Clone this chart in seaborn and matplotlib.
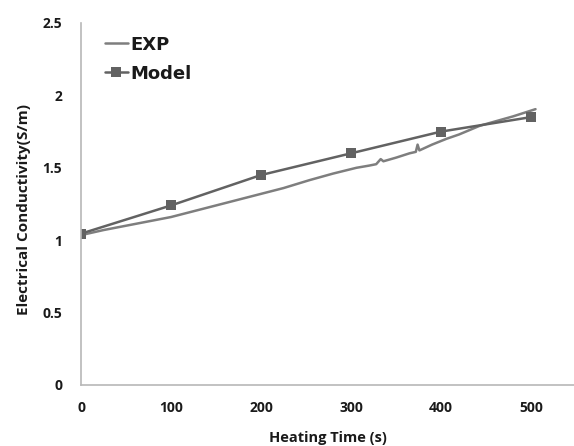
import matplotlib
matplotlib.use("Agg")
import matplotlib.pyplot as plt
import seaborn as sns
import pandas as pd

exp_time = [0, 25, 50, 75, 100, 125, 150, 175, 200, 225, 254, 280, 306, 320, 328, 333, 336, 350, 365, 372, 374, 376, 390, 406, 420, 443, 460, 480, 495, 505]
exp_cond = [1.035, 1.07, 1.10, 1.13, 1.16, 1.20, 1.24, 1.28, 1.32, 1.36, 1.415, 1.46, 1.50, 1.515, 1.525, 1.56, 1.545, 1.57, 1.60, 1.61, 1.66, 1.62, 1.66, 1.70, 1.73, 1.79, 1.82, 1.855, 1.885, 1.905]
model_time = [0, 100, 200, 300, 400, 500]
model_cond = [1.045, 1.24, 1.45, 1.60, 1.75, 1.85]
x_ticks = [0, 100, 200, 300, 400, 500]
y_ticks = [0, 0.5, 1, 1.5, 2, 2.5]
y_tick_labels = ["0", "0.5", "1", "1.5", "2", "2.5"]

sns.set_theme(style="white")
plt.rcParams['font.family'] = ['Open Sans', 'DejaVu Sans']

fig = plt.figure(figsize=(5.74, 4.46), dpi=100)
ax = fig.add_axes([81/574, 1 - 385/446, 1 - 81/574, (385 - 23)/446])

df_exp = pd.DataFrame({"t": exp_time, "v": exp_cond})
df_mod = pd.DataFrame({"t": model_time, "v": model_cond})
sns.lineplot(data=df_exp, x="t", y="v", ax=ax, color="#7e7e7e", linewidth=1.8, label="EXP")
sns.lineplot(data=df_mod, x="t", y="v", ax=ax, color="#626262", linewidth=1.8,
             marker="s", markersize=7, markeredgewidth=0, label="Model")

ax.set_xlim(0, (574 - 81) / 0.9)
ax.set_ylim(0, 2.5)
ax.set_xticks(x_ticks)
ax.set_yticks(y_ticks)
ax.set_yticklabels(y_tick_labels)
for lab in ax.get_xticklabels() + ax.get_yticklabels():
    lab.set_fontweight("bold")
    lab.set_fontsize(10)
    lab.set_color("#1a1a1a")
ax.tick_params(axis="x", length=0, pad=11.5)
ax.tick_params(axis="y", length=0, pad=13.5)
ax.set_xlabel("Heating Time (s)", fontsize=10.5, fontweight="bold", color="#1a1a1a")
ax.xaxis.set_label_coords(0.5, -0.128)
ax.set_ylabel("Electrical Conductivity(S/m)", fontsize=11, fontweight="bold", color="#1a1a1a")
ax.yaxis.set_label_coords(-0.102, 0.485)
for s in ["top", "right"]:
    ax.spines[s].set_visible(False)
for s in ["left", "bottom"]:
    ax.spines[s].set_color("#b8b8b8")
    ax.spines[s].set_linewidth(1.2)

leg = ax.legend(loc="upper left", bbox_to_anchor=(0.048, 0.965), frameon=False,
                prop={"family": "DejaVu Sans", "weight": "bold", "size": 13},
                handlelength=1.3, handletextpad=0.1, labelspacing=0.6,
                borderaxespad=0, borderpad=0)
for t in leg.get_texts():
    t.set_color("#1a1a1a")

fig.savefig("out.png", dpi=100)
